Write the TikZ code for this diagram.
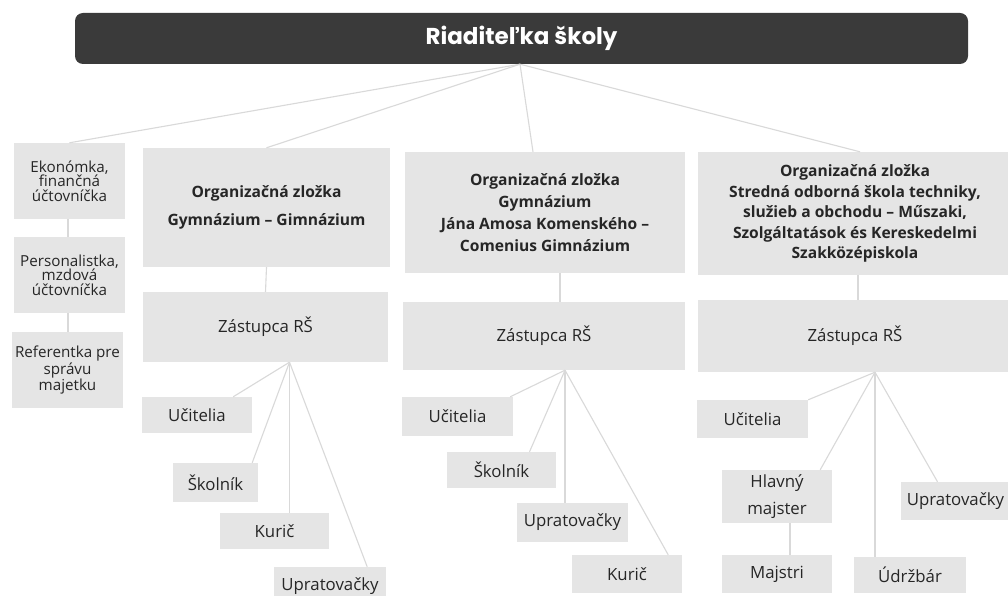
\documentclass[tikz,border=0pt]{standalone}
\usepackage{fontspec}
\setmainfont{Open Sans}
\newfontfamily\titlefont{Poppins}
\usetikzlibrary{calc}
\definecolor{boxgrey}{HTML}{E5E5E5}
\definecolor{linegrey}{HTML}{D9D9D9}
\definecolor{bardark}{HTML}{3A3A3A}
\definecolor{txt}{HTML}{262626}
\tikzset{
  bx/.style 2 args={fill=boxgrey, draw=none, text=txt, align=center, inner sep=0pt,
     minimum width=#1, minimum height=#2, font=\fontsize{16.8}{20}\selectfont},
  sidetxt/.style={font=\fontsize{15.2}{14.5}\selectfont},
  conn/.style={draw=linegrey, line width=1.1pt}
}
\begin{document}
\begin{tikzpicture}[x=1pt,y=-1pt]
\fill[white] (0,0) rectangle (1008,596);
\path[use as bounding box] (0,0) rectangle (1008,596);

% root bar
\node[fill=bardark, rounded corners=8pt, minimum width=893pt, minimum height=51pt, inner sep=0pt,
      text=white, font=\titlefont\fontsize{23}{26}\selectfont\bfseries] (root) at (521.5,38.5) {Riaditeľka školy};

% left column
\node[bx={111pt}{76pt}, sidetxt] (eko) at (69.5,181) {Ekonómka,\\finančná\\účtovníčka};
\node[bx={111pt}{76pt}, sidetxt] (pers) at (69.5,275) {Personalistka,\\mzdová\\účtovníčka};
\node[bx={111pt}{76pt}, sidetxt] (ref) at (67.5,370) {Referentka pre\\správu\\majetku};

% organisational units
\node[bx={247pt}{119pt}, font=\fontsize{15.6}{28}\selectfont\bfseries] (org1) at (266.5,207.5) {Organizačná zložka\\Gymnázium – Gimnázium};
\node[bx={280pt}{121pt}, font=\fontsize{15.6}{22}\selectfont\bfseries] (org2) at (545,212.5) {Organizačná zložka\\Gymnázium\\Jána Amosa Komenského –\\Comenius Gimnázium};
\node[bx={314pt}{123pt}, font=\fontsize{15.6}{20.5}\selectfont\bfseries] (org3) at (855,213.5) {Organizačná zložka\\Stredná odborná škola techniky,\\služieb a obchodu – Műszaki,\\Szolgáltatások és Kereskedelmi\\Szakközépiskola};

% deputies
\node[bx={245pt}{70pt}] (zas1) at (265.5,327) {Zástupca RŠ};
\node[bx={282pt}{68pt}] (zas2) at (544,336) {Zástupca RŠ};
\node[bx={314pt}{72pt}] (zas3) at (855,336) {Zástupca RŠ};

% staff, unit 1
\node[bx={110pt}{36pt}] (uc1) at (197,415) {Učitelia};
\node[bx={85pt}{39pt}] (sk1) at (215.5,482.5) {Školník};
\node[bx={109pt}{36pt}] (ku1) at (274.5,531) {Kurič};
\node[bx={112pt}{38pt}] (up1) at (330,586) {Upratovačky};

% staff, unit 2
\node[bx={111pt}{39pt}] (uc2) at (457.5,416.5) {Učitelia};
\node[bx={109pt}{36pt}] (sk2) at (501.5,470) {Školník};
\node[bx={111pt}{39pt}] (up2) at (572.5,522.5) {Upratovačky};
\node[bx={110pt}{38pt}] (ku2) at (627,574) {Kurič};

% staff, unit 3
\node[bx={111pt}{38pt}] (uc3) at (752.5,419) {Učitelia};
\node[bx={110pt}{53pt}, font=\fontsize{16.8}{27}\selectfont] (hm) at (777,496.5) {Hlavný\\majster};
\node[bx={110pt}{38pt}] (maj) at (777,574) {Majstri};
\node[bx={112pt}{36pt}] (udr) at (910,575) {Údržbár};
\node[bx={109pt}{38pt}] (up3) at (955.5,501) {Upratovačky};

% fan points
\coordinate (f0) at ([xshift=-1.5pt]root.south);
\coordinate (f1) at ([xshift=24pt]zas1.south);
\coordinate (f2) at ([xshift=21pt]zas2.south);
\coordinate (f3) at ([xshift=20pt]zas3.south);

\draw[conn] (f0) -- (eko.north);
\draw[conn] (f0) -- (org1.north);
\draw[conn] (f0) -- ([xshift=-12pt]org2.north);
\draw[conn] (f0) -- ([xshift=5pt]org3.north);

\draw[conn] ([xshift=-1.5pt]eko.south) -- ([xshift=-1.5pt]pers.north);
\draw[conn] ([xshift=-1.5pt]pers.south) -- ([xshift=0.5pt]ref.north);

\draw[conn] (org1.south) -- (zas1.north);
\draw[conn] ([xshift=15pt]org2.south) -- ([xshift=16pt]zas2.north);
\draw[conn] ([xshift=3pt]org3.south) -- ([xshift=3pt]zas3.north);

\draw[conn] (f1) -- ([xshift=-19pt]uc1.north east);
\draw[conn] (f1) -- ([xshift=-6pt]sk1.north east);
\draw[conn] (f1) -- (f1 |- ku1.north);
\draw[conn] (f1) -- ([xshift=-19pt]up1.north east);

\draw[conn] (f2) -- ([xshift=-3pt]uc2.north east);
\draw[conn] (f2) -- ([xshift=28pt]sk2.north);
\draw[conn] (f2) -- (f2 |- up2.north);
\draw[conn] (f2) -- ([xshift=-14pt]ku2.north east);

\draw[conn] (f3) -- (uc3.north east);
\draw[conn] (f3) -- ([xshift=-12pt]hm.north east);
\draw[conn] (f3) -- (f3 |- udr.north);
\draw[conn] (f3) -- ([xshift=-18pt]up3.north);

\draw[conn] ([xshift=13pt]hm.south) -- ([xshift=13pt]maj.north);
\end{tikzpicture}
\end{document}
